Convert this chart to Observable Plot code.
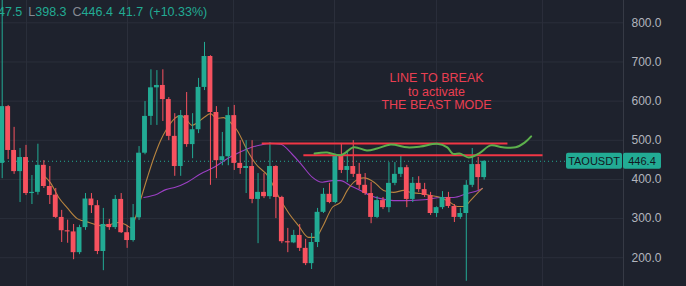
<!DOCTYPE html>
<html><head><meta charset="utf-8">
<script src="https://cdn.jsdelivr.net/npm/d3@7"></script>
<script src="https://cdn.jsdelivr.net/npm/@observablehq/plot@0.6"></script>
<style>
html,body{margin:0;padding:0;background:#1e222d;}
#wrap{position:relative;width:686px;height:286px;overflow:hidden;font-family:"Liberation Sans",Arial,sans-serif;}
#legend{position:absolute;top:4px;left:-18px;height:16px;font-size:12.5px;line-height:16px;white-space:nowrap;color:#22ab94;}
#legend .g{margin-right:6px;}
#legend .k{color:#868993;}
</style></head><body>
<div id="wrap"><div id="chart"></div><div id="legend"></div></div>
<script>
// ---- data ----
const symbol = "TAOUSDT";
const open  = [441,586,474,420,456,364,367,436,382,360,303,269,266,213,277,350,333,216,285,277,349,264,244,302,467,561,634,640,604,510,433,563,489,527,635,714,571,448,458,563,441,428,433,349,367,356,433,354,241,238,257,224,185,239,316,362,341,459,423,433,413,385,364,303,346,328,390,413,430,349,390,374,359,313,328,354,331,303,313,385,438,404.7];
const high  = [880,589,533,479,487,410,490,448,433,377,321,296,285,283,364,364,346,326,298,359,364,282,336,484,599,680,678,680,609,568,576,622,568,658,750,716,586,520,584,589,499,499,499,415,415,494,435,357,275,270,285,247,262,326,377,390,464,492,474,499,441,415,392,356,354,443,443,459,436,405,407,390,367,330,369,367,336,326,397,479,456,447.5];
const low   = [402,451,413,341,359,336,360,377,336,300,239,237,195,208,270,313,208,167,270,272,262,224,240,295,463,538,538,548,499,408,408,482,453,517,627,385,402,435,435,423,413,364,338,236,351,349,300,236,213,236,216,180,170,226,313,338,338,415,392,405,374,359,287,300,323,315,384,405,328,341,367,354,308,303,323,326,290,298,140,379,372,398.3];
const close = [586,474,420,456,364,367,436,382,359,303,269,266,213,277,350,333,216,285,277,349,264,244,302,467,561,634,640,604,510,433,563,489,527,635,714,571,448,458,563,441,428,433,349,367,356,433,354,241,238,257,224,185,239,316,362,341,459,423,433,413,385,364,303,346,328,390,413,430,349,390,374,359,313,328,354,331,303,313,385,438,404.7,446.4];
const priceTicks = [200,300,400,500,600,700,800];
const timeGrid = [4.08,21.06,38.87,55.85,73.0,90.8];
// moving averages: [candle index, price]
const maFast = [[7,410],[8.1,392],[9.5,354],[10.9,328],[12.6,300],[13.4,295],[14.6,290],[16.5,282],[18.2,285],[19.6,290],[20.7,285],[21.6,277],[23.2,346],[24.4,405],[25.5,456],[26.6,499],[27.7,530],[28.8,553],[30,563],[31.1,550],[31.9,538],[32.8,545],[33.9,558],[35,568],[36.1,556],[37.2,558],[38.2,548],[39.5,525],[41.2,474],[42.6,440],[44.8,406],[46.5,355],[48.2,313],[49.8,282],[51.5,252],[52.7,252],[53.8,278],[55.5,329],[56.9,342],[58,372],[59.1,393],[60.8,404],[62.5,393],[64.1,372],[65.8,367],[67.5,372],[68.6,367],[70.3,364],[72,359],[73.7,354],[75.3,341],[76.5,331],[77.6,331],[78.7,346],[79.8,364],[80.7,377]];
const maSlow = [[23.8,354],[26.1,363],[27.5,374],[29.1,380],[31.1,393],[33.3,414],[35.6,431],[37.8,453],[40,470],[41.7,481],[43.4,488],[45.1,492],[46.8,490],[48.7,465],[50.4,436],[52.1,406],[53.8,393],[55.5,397],[56.9,397],[58.5,384],[60.2,372],[61.9,359],[63.6,351],[65.8,346],[68.1,346],[70.9,348],[73.7,354],[75.9,354],[78.1,364],[79.5,369],[80.7,377]];
// hand-drawn annotations
const levels = [{price:492, from:43.7, to:85.0},{price:462, from:50.7, to:90.9}];
const drawn = [[52.5,466],[54.6,469],[56.9,462],[59.1,482],[61.3,474],[63,479],[65.3,489],[68.1,482],[70.3,484],[73.1,491],[74.8,482],[75.7,466],[77,466],[78.4,456],[80.1,466],[82.1,487],[84.1,482],[86.3,482],[87.8,494],[88.9,510]];
const notes = [{text:"LINE TO BREAK\nto activate\nTHE BEAST MODE", i:73.0, price:625}];
const legendParts = [["H","447.5"],["L","398.3"],["C","446.4"],["","41.7"],["","(+10.33%)"]];

// ---- chart ----
const GREEN = "#22ab94", RED = "#f7525f";
const candles = close.map((c,i)=>({i, open:open[i], high:high[i], low:low[i], close:c}));
const col = d => d.close >= d.open ? GREEN : RED;
const lastClose = close[close.length-1];

const plot = Plot.plot({
  width:686, height:286,
  marginLeft:0, marginRight:63, marginTop:0, marginBottom:0,
  x:{domain:[-0.286,104.42], axis:null},
  y:{domain:[126.6,857], axis:null},
  color:{type:"identity"},
  style:{background:"#1e222d", fontFamily:"Liberation Sans, Arial, sans-serif"},
  marks:[
    Plot.gridY(priceTicks,{stroke:"#2b2f3b",strokeOpacity:1}),
    Plot.gridX(timeGrid,{stroke:"#2b2f3b",strokeOpacity:1}),
    Plot.frame({anchor:"right", stroke:"#363a45"}),
    Plot.axisY(priceTicks,{anchor:"right", tickSize:0, tickPadding:8, tickFormat:d=>d.toFixed(1), color:"#b2b5be", fontSize:12}),
    Plot.ruleY([lastClose],{stroke:GREEN, strokeDasharray:"1,3"}),
    Plot.line(maSlow,{x:d=>d[0], y:d=>d[1], stroke:"#9b3fc3", strokeWidth:1.1, curve:"monotone-x"}),
    Plot.line(maFast,{x:d=>d[0], y:d=>d[1], stroke:"#b8843f", strokeWidth:1.1, curve:"monotone-x"}),
    Plot.ruleX(candles,{x:"i", y1:"low", y2:"high", stroke:col, strokeWidth:1}),
    Plot.rect(candles,{x1:d=>d.i-0.41, x2:d=>d.i+0.41, y1:"open", y2:"close", fill:col}),
    Plot.ruleY(levels,{y:"price", x1:"from", x2:"to", stroke:"#f23645", strokeWidth:2}),
    Plot.line(drawn,{x:d=>d[0], y:d=>d[1], curve:"catmull-rom", stroke:"#5cb04c", strokeWidth:2}),
    Plot.text(notes,{x:"i", y:"price", text:"text", fill:"#ea3f52", fontSize:12.5, lineHeight:1.1, textAnchor:"middle"})
  ]
});
document.getElementById("chart").appendChild(plot);

// last-price label on the price scale
const ys = plot.scale("y"), xs = plot.scale("x");
const yPx = ys.apply(lastClose);
const right = xs.range[1];
const g = d3.select(plot).append("g").attr("font-family","Liberation Sans, Arial, sans-serif").attr("font-size",11);
g.append("rect").attr("x",right-57).attr("y",yPx-8).attr("width",56).attr("height",16).attr("rx",2).attr("fill",GREEN);
g.append("text").attr("x",right-29).attr("y",yPx).attr("dy","0.35em").attr("text-anchor","middle").attr("fill","#131722").text(symbol);
g.append("rect").attr("x",right).attr("y",yPx-8).attr("width",38).attr("height",16).attr("rx",2).attr("fill",GREEN);
g.append("text").attr("x",right+19).attr("y",yPx).attr("dy","0.35em").attr("text-anchor","middle").attr("fill","#131722").text(lastClose.toFixed(1));

// OHLC legend
const leg = d3.select("#legend");
legendParts.forEach(([k,v])=>{
  const s = leg.append("span").attr("class","g");
  if (k) s.append("span").attr("class","k").text(k);
  s.append("span").text(v);
});
</script></body></html>
